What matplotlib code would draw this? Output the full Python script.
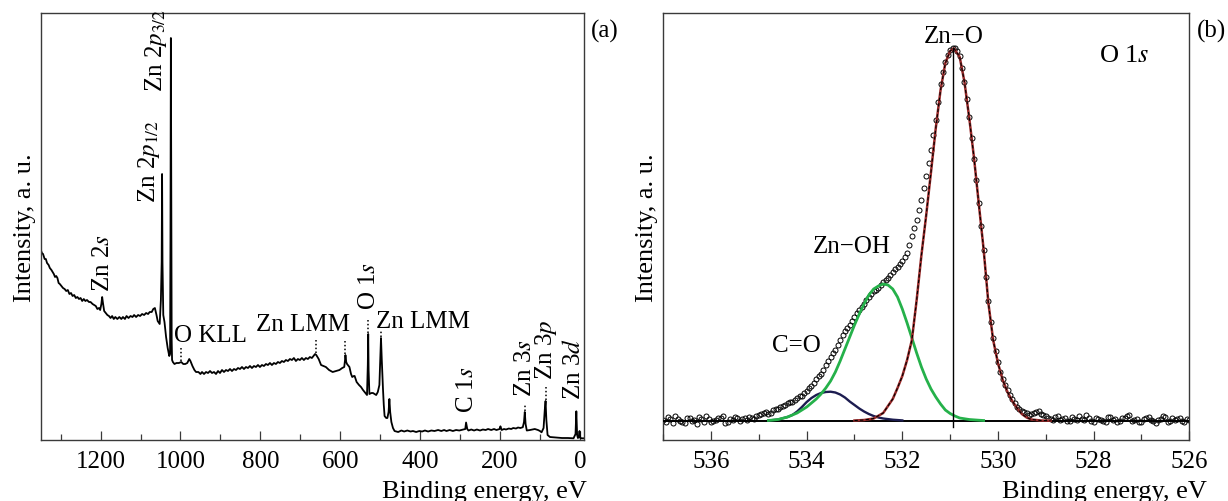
import numpy as np
import matplotlib.pyplot as plt
from matplotlib.ticker import MultipleLocator

plt.rcParams['font.family'] = 'Liberation Serif'
plt.rcParams['mathtext.fontset'] = 'stix'

# ---- (a) survey spectrum: (binding energy eV, intensity a.u.)
survey_points = [
    (1351, 192), (1347, 187), (1344, 186), (1340, 181), (1337, 181), (1334, 177), (1330, 175),
    (1327, 172), (1323, 170), (1320, 168), (1317, 166), (1314, 163), (1311, 164), (1308, 162),
    (1305, 157), (1302, 156), (1298, 154), (1294, 152), (1290, 151), (1286, 149), (1282, 150),
    (1278, 146), (1274, 147), (1270, 144), (1266, 145), (1262, 142), (1258, 143), (1254, 141),
    (1250, 142), (1246, 139), (1242, 141), (1238, 139), (1234, 140), (1229, 138), (1225, 138),
    (1220, 136), (1216, 135), (1212, 134), (1208, 131), (1204, 132), (1201, 130), (1198, 136),
    (1196, 143), (1194, 137), (1191, 129), (1187, 127), (1183, 125), (1179, 124), (1175, 122),
    (1171, 124), (1167, 121), (1163, 123), (1158, 121), (1153, 123), (1148, 121), (1144, 123),
    (1139, 121), (1135, 124), (1130, 122), (1125, 124), (1120, 123), (1116, 125), (1111, 123),
    (1106, 125), (1101, 124), (1096, 126), (1091, 125), (1086, 127), (1081, 126), (1077, 128),
    (1072, 128), (1068, 131), (1064, 132), (1060, 125), (1057, 119), (1052, 116), (1049, 140),
    (1047, 178), (1046, 266), (1045, 178), (1043, 125), (1040, 118), (1036, 103), (1032, 92),
    (1028, 84), (1026, 86), (1025, 200), (1024, 402), (1023, 250), (1022, 100), (1021, 80),
    (1019, 78), (1015, 76), (1010, 77), (1004, 77), (998, 78), (993, 76), (988, 76),
    (983, 77), (978, 81), (975, 79), (970, 74), (965, 70), (961, 68), (955, 68),
    (950, 66), (946, 68), (941, 66), (936, 68), (931, 67), (926, 69), (921, 67),
    (916, 68), (911, 66), (906, 69), (901, 67), (896, 70), (891, 68), (886, 70),
    (881, 69), (876, 71), (871, 69), (866, 71), (861, 70), (856, 72), (851, 71),
    (846, 73), (841, 71), (836, 73), (831, 72), (826, 74), (821, 72), (816, 74),
    (811, 73), (806, 75), (801, 73), (796, 75), (791, 74), (786, 76), (781, 75),
    (776, 77), (771, 75), (766, 77), (761, 76), (756, 78), (751, 77), (746, 79),
    (741, 78), (736, 80), (731, 79), (726, 81), (721, 80), (716, 82), (711, 79),
    (706, 81), (701, 80), (696, 82), (691, 80), (686, 82), (681, 81), (676, 83),
    (671, 82), (667, 84), (663, 86), (660, 85), (654, 81), (648, 75), (642, 74),
    (636, 73), (628, 70), (619, 68), (610, 69), (602, 70), (595, 72), (590, 73),
    (588, 80), (587, 85), (585, 78), (583, 76), (577, 73), (573, 66), (570, 63),
    (566, 64), (564, 64), (559, 58), (553, 55), (548, 53), (543, 50), (539, 48),
    (535, 46), (533, 45), (531, 75), (530, 106), (529, 70), (527, 46), (522, 47),
    (518, 47), (514, 46), (510, 45), (506, 48), (502, 55), (500, 80), (498, 102),
    (496, 80), (493, 51), (491, 35), (489, 24), (485, 22), (482, 22), (479, 28),
    (477, 41), (475, 28), (472, 18), (468, 12), (464, 9), (455, 8), (447, 9.5),
    (440, 8.5), (432, 9.5), (424, 8.5), (418, 9), (410, 8), (402, 9), (395, 8.5),
    (388, 9.5), (380, 8.5), (372, 9.5), (364, 9), (355, 10), (347, 9), (340, 10),
    (334, 9), (326, 10), (318, 9), (310, 10), (302, 9.5), (292, 10.5), (287, 11),
    (285, 17.5), (282, 11), (279, 9.5), (272, 10.5), (265, 9.5), (258, 10.5), (250, 9.5),
    (243, 10.5), (236, 10), (230, 11), (222, 10), (215, 11), (209, 10), (201, 11),
    (199, 13.7), (196, 10), (190, 11), (185, 10.5), (178, 11.5), (172, 11), (167, 12),
    (160, 11.5), (155, 12.5), (149, 12), (143, 12.8), (140, 18), (138, 28), (136, 16),
    (133, 9.5), (125, 10), (113, 11), (105, 10), (100, 9), (96, 7.7), (91, 12),
    (88, 30), (86, 39), (84, 20), (81, 5), (75, 3), (60, 2.5), (45, 2),
    (30, 2), (16, 1.7), (11, 6), (9, 28.7), (7, 5), (5, 2), (3, 3),
    (1, 9), (-1, 2), (-5, 1.7), (-10, 1.7),
]
survey_be = [p[0] for p in survey_points]
survey_int = [p[1] for p in survey_points]

# dotted markers above peaks: energy, from, to
mark_be = [999, 661, 587, 530, 498, 138, 86]
mark_lo = [79, 87, 86, 107, 103, 29, 40]
mark_hi = [94, 100, 100, 121, 110, 36, 54]

# ---- (b) O 1s region, measured points (two interleaved sweeps of 0.1 eV)
ols_be = np.round(np.arange(537.0, 525.95, -0.1), 2)
ols_int = [20, 23, 17, 21, 18, 22, 19, 16, 21, 24, 18, 20, 22, 17, 21, 23, 19, 22,
           23, 21, 25,
           27, 26, 30, 31, 34, 37, 38, 42, 44, 49,
           54, 61, 66, 75, 83, 90, 100, 109, 115, 123,
           130, 136, 143, 149, 152, 158, 162, 168, 173, 179,
           187, 204, 220, 240, 264, 290, 320, 356, 378, 390,
           392, 384, 358, 323, 281, 237, 190, 139, 102, 78,
           61, 50, 41, 33, 29, 27, 26, 28, 26, 24,
           21, 23, 20, 22, 19, 21, 24, 20, 22, 18, 21, 19, 23, 20, 18,
           22, 24, 19, 21, 18, 22, 20, 17, 21, 23, 19, 20, 22, 18, 20]
ols_be_half = np.round(np.arange(536.95, 526.0, -0.1), 2)
ols_int_half = [18, 21, 24, 19, 17, 22, 20, 23, 18, 21, 19, 22, 24, 18, 20, 22, 21, 20,
                22, 24,
                26, 28, 27, 31, 33, 35, 38, 40, 44, 47,
                52, 57, 64, 70, 79, 87, 95, 105, 112, 119,
                127, 133, 140, 146, 150, 155, 160, 165, 171, 176,
                183, 195, 212, 230, 252, 277, 305, 338, 368, 385,
                392, 389, 372, 341, 302, 260, 214, 163, 118, 89,
                68, 55, 45, 37, 31, 28, 25, 27, 29, 25,
                22, 20, 24, 21, 19, 23, 20, 21, 25, 19, 22, 20, 18, 23, 21,
                19, 22, 25, 20, 18, 21, 23, 19, 20, 24, 18, 22, 21, 19, 21]

co_be = [534.8, 534.6, 534.4, 534.3, 534.2, 534.1, 534.0, 533.9, 533.8, 533.7,
         533.6, 533.5, 533.4, 533.3, 533.2, 533.1, 533.0, 532.9, 532.8, 532.7,
         532.6, 532.5, 532.4, 532.2, 532.0]
co_int = [19.5, 20.5, 23, 25, 28.5, 33, 38, 42, 45, 47,
          48, 48.3, 47.5, 45.5, 42.5, 38.5, 35, 31.5, 28.5, 26,
          24, 22.5, 21.5, 20.3, 19.6]

znoh_be = [534.8, 534.6, 534.4, 534.2, 534.0,
           533.8, 533.7, 533.6, 533.5, 533.4, 533.3, 533.2, 533.1, 533.0,
           532.9, 532.8, 532.7, 532.6, 532.5, 532.4, 532.3, 532.2, 532.1, 532.0,
           531.9, 531.8, 531.7, 531.6, 531.5, 531.4, 531.3, 531.2, 531.1, 531.0,
           530.9, 530.8, 530.6, 530.4, 530.3]
znoh_int = [19.5, 20.5, 23, 27, 33,
            41, 46, 52, 59, 68, 79, 91, 103, 115,
            126, 136, 145, 151, 154, 156, 155, 151, 143, 131,
            117, 102, 87, 73, 61, 51, 43, 36, 30, 26.5,
            24, 22, 20.5, 19.8, 19.5]

zno_be = [533.0, 532.8, 532.6, 532.4, 532.2, 532.1, 532.0,
          531.9, 531.8, 531.7, 531.6, 531.5, 531.4, 531.3, 531.2, 531.1, 531.0,
          530.92,
          530.8, 530.7, 530.6, 530.5, 530.4, 530.3, 530.2, 530.1, 530.0,
          529.9, 529.8, 529.7, 529.6, 529.5, 529.4, 529.3,
          529.1, 528.9]
zno_int = [19.5, 20, 21.5, 27, 41, 52, 64,
           80, 100, 140, 185, 225, 268, 312, 350, 377, 389,
           391.7,
           383, 358, 322, 282, 236, 191, 137, 100, 77,
           60, 48, 39, 32, 26, 22.5, 20.5,
           19.5, 19.3]

background = 19.3
zno_center = 530.94

fig = plt.figure(figsize=(12.28, 5.02), dpi=100)
ax1 = fig.add_axes([0.0331, 0.1215, 0.4424, 0.8506])
ax2 = fig.add_axes([0.5401, 0.1215, 0.4283, 0.8506])


def style_axes(ax):
    for s in ax.spines.values():
        s.set_color('#3a3a3a')
        s.set_linewidth(1.0)
    ax.set_yticks([])
    ax.tick_params(axis='x', which='both', direction='in', top=False,
                   labelsize=18, pad=7, color='#3a3a3a')
    ax.tick_params(axis='x', which='major', length=6.5, width=0.9)
    ax.tick_params(axis='x', which='minor', length=4.3, width=0.9)


# ---- panel (a)
ax1.plot(survey_be, survey_int, color='black', lw=1.3)
for e, lo, hi in zip(mark_be, mark_lo, mark_hi):
    ax1.plot([e, e], [lo, hi], color='black', lw=1.1, ls=(0, (1, 1.5)))

ax1.set_xlim(1350, -10)
ax1.set_ylim(0, 427)
ax1.xaxis.set_major_locator(MultipleLocator(200))
ax1.xaxis.set_minor_locator(MultipleLocator(100))
style_axes(ax1)

fs = 18
rot = dict(rotation=90, ha='center', va='bottom', fontsize=fs)
ax1.text(1195, 149, 'Zn 2$s$', **rot)
ax1.text(1078, 238, 'Zn 2$p_{1/2}$', **rot)
ax1.text(1062, 349, 'Zn 2$p_{3/2}$', **rot)
ax1.text(527, 131, 'O 1$s$', **rot)
ax1.text(282, 28, 'C 1$s$', **rot)
ax1.text(138, 44, 'Zn 3$s$', **rot)
ax1.text(84, 61, 'Zn 3$p$', **rot)
ax1.text(16, 41, 'Zn 3$d$', **rot)
ax1.text(1015, 99.5, 'O KLL', ha='left', va='baseline', fontsize=fs)
ax1.text(576, 110, 'Zn LMM', ha='right', va='baseline', fontsize=fs)
ax1.text(510, 112.7, 'Zn LMM', ha='left', va='baseline', fontsize=fs)

ax1.set_ylabel('Intensity, a. u.', fontsize=19, va='center')
ax1.yaxis.set_label_coords(-0.029, 0.5)
ax1.set_xlabel('Binding energy, eV', fontsize=19, ha='right', va='baseline')
ax1.xaxis.set_label_coords(1.0055, -0.134)

# ---- panel (b)
for be, it in [(ols_be, ols_int), (ols_be_half, ols_int_half)]:
    ax2.plot(be, it, ls='none', marker='o', ms=3.6, mfc='none',
             mec='black', mew=0.7, zorder=2)
ax2.plot([537, 526], [background, background], color='black', lw=1.4, zorder=3)
ax2.plot(co_be, co_int, color='#1c1c50', lw=1.7, zorder=4)
ax2.plot(znoh_be, znoh_int, color='#25b14a', lw=2.0, zorder=4)
ax2.plot(zno_be, zno_int, color='#9a2a2a', lw=1.8, zorder=4)
ax2.plot(zno_be, zno_int, color='black', lw=0.8, ls=(0, (3, 2)), zorder=5)
ax2.plot([zno_center, zno_center], [12.7, 391.7], color='black', lw=1.0, zorder=5)

ax2.set_xlim(537, 526)
ax2.set_ylim(0, 427)
ax2.xaxis.set_major_locator(MultipleLocator(2))
ax2.xaxis.set_minor_locator(MultipleLocator(1))
style_axes(ax2)

ax2.text(530.92, 397.7, 'Zn\u2212O', ha='center', va='baseline', fontsize=fs)
ax2.text(533.06, 188, 'Zn\u2212OH', ha='center', va='baseline', fontsize=fs)
ax2.text(534.22, 89.3, 'C=O', ha='center', va='baseline', fontsize=fs)
ax2.text(527.36, 379.3, 'O 1$s$', ha='center', va='baseline', fontsize=19)

ax2.set_ylabel('Intensity, a. u.', fontsize=19, va='center')
ax2.yaxis.set_label_coords(-0.031, 0.5)
ax2.set_xlabel('Binding energy, eV', fontsize=19, ha='right', va='baseline')
ax2.xaxis.set_label_coords(1.0337, -0.134)

fig.text(605 / 1228, 1 - 31 / 502, '(a)', ha='center', va='center', fontsize=18)
fig.text(1211.7 / 1228, 1 - 31 / 502, '(b)', ha='center', va='center', fontsize=18)

fig.savefig('out.png', dpi=100)
